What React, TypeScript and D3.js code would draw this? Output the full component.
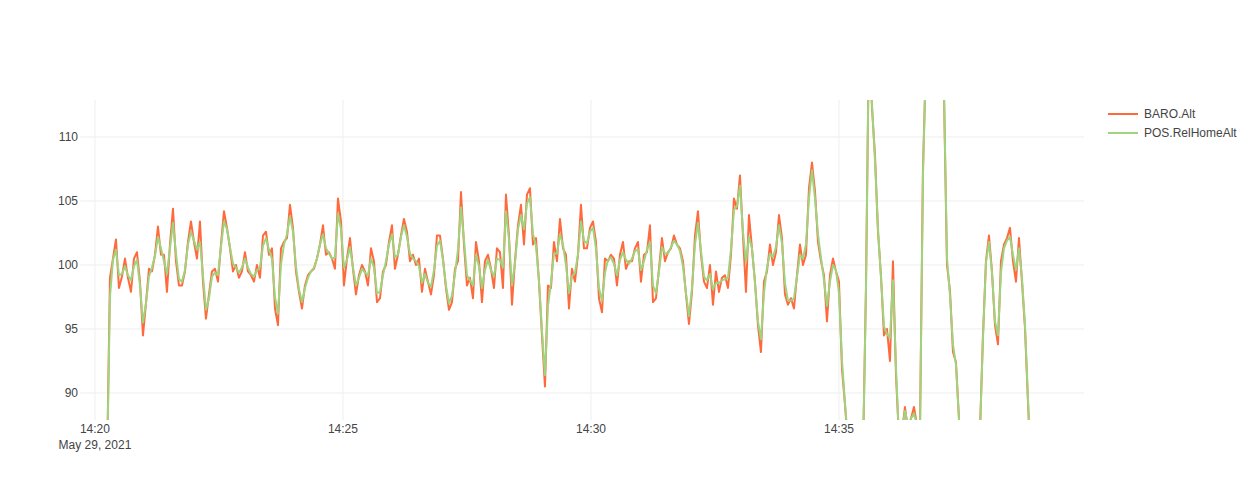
import React from "react";
import * as d3 from "d3";

// Flight log, sampled at a regular interval (seconds after 14:20:00, May 29 2021)
const SAMPLE_START_S = 14.52;
const SAMPLE_STEP_S = 3.629;

const baroAlt: number[] = [
  84, 99, 100.5, 102, 98.2, 99.1, 100.5, 99, 97.9, 100.5,
  101, 98.7, 94.5, 97, 99.7, 99.5, 100.8, 103, 100.8, 100.8,
  97.9, 101.6, 104.4, 100.3, 98.4, 98.4, 99.5, 101.8, 103.4, 101.8,
  100.5, 103.4, 98.7, 95.8, 97.7, 99.5, 99.7, 98.7, 101.6, 104.2,
  102.9, 101.3, 99.5, 100, 99, 99.5, 101, 99.5, 99.2, 98.7,
  100, 99, 102.3, 102.6, 100.8, 101.3, 96.6, 95.3, 101.3, 101.8,
  102.1, 104.7, 102.9, 99.5, 97.9, 96.6, 98.4, 99.2, 99.5, 99.7,
  100.5, 101.6, 103.1, 100.8, 101, 100.5, 99.7, 105.2, 103.4, 98.4,
  100.5, 102.1, 99.7, 97.7, 99.2, 100, 99.5, 98.4, 101.3, 100.3,
  97.1, 97.4, 99.5, 100, 101.8, 103.1, 99.7, 100.8, 102.3, 103.6,
  102.6, 100.3, 100.8, 100, 100.5, 97.9, 99.7, 98.7, 97.7, 99.2,
  102.3, 102.3, 100.5, 98.2, 96.5, 97.1, 99.7, 100.3, 105.7, 101.6,
  98.4, 99, 97.4, 101.8, 100.3, 97.1, 100.3, 100.8, 99.7, 98.2,
  101.3, 101, 98.2, 105.5, 102.3, 96.9, 100.3, 103.1, 104.7, 101.6,
  105.5, 106, 101.6, 102.1, 98.7, 94.5, 90.5, 98.4, 98.2, 101.8,
  100.3, 103.6, 101.3, 100.8, 96.6, 99.7, 98.7, 100.8, 104.7, 101.3,
  101.3, 102.9, 103.4, 101.8, 97.4, 96.3, 100.5, 100.3, 100.8, 100.5,
  98.4, 100.8, 101.8, 99.7, 100.3, 100.3, 101.3, 101.8, 98.7, 100.8,
  101, 103.1, 97.1, 97.4, 99.7, 102.1, 100.3, 101, 101.3, 102.3,
  101.6, 101.3, 100.3, 97.7, 95.4, 97.9, 102.3, 104.2, 100.8, 98.7,
  98.2, 100, 96.9, 99.5, 97.9, 99, 99.2, 98.2, 100.8, 105.2,
  104.4, 107, 102.3, 97.9, 103.9, 101.3, 98.7, 95.3, 93.2, 98.7,
  99.5, 101.6, 100, 101, 103.9, 102.1, 97.7, 96.9, 97.4, 96.6,
  99.2, 101.6, 100, 100.8, 106, 108, 105.8, 101.8, 100.3, 99.2,
  95.6, 99.2, 100.5, 99.5, 98.7, 91.9, 89.1, 86, 84, 83,
  83, 84, 85, 98.3, 118, 112.3, 108.6, 102.6, 99.2, 94.5,
  95, 92.5, 100.3, 91.4, 86.5, 87, 88.9, 87, 88, 88.9,
  87.5, 87, 107.6, 116, 121, 124, 125, 124, 120, 113.5,
  100, 98, 93.2, 92.4, 88, 85, 83, 82, 82, 83,
  85, 87, 94.5, 100.3, 102.3, 99.5, 95.3, 93.8, 100.3, 101.6,
  102.1, 102.9, 100.3, 98.7, 102.1, 98.7, 95.1, 89.3, 84,
];

const posRelHomeAlt: number[] = [
  84, 97.5, 100.4, 101.2, 99.2, 99.3, 99.9, 99.2, 98.8, 99.9,
  100.4, 98.4, 95.5, 97, 99.1, 99.8, 100.7, 102.2, 101.3, 100.3,
  99.3, 101.3, 103.3, 100.9, 98.9, 98.7, 99.6, 101.6, 102.6, 101.9,
  101.2, 101.8, 99.2, 96.5, 97.4, 99.1, 99.4, 99.2, 101.4, 103.4,
  102.8, 101.4, 100.1, 99.8, 99.4, 99.8, 100.5, 99.8, 99.3, 99.1,
  99.6, 99.8, 101.5, 102.1, 101.2, 100.5, 97.5, 96.2, 100, 101.6,
  102.4, 103.8, 102.6, 99.9, 98.1, 97.1, 98.2, 99, 99.5, 99.8,
  100.5, 101.6, 102.4, 101.3, 100.9, 100.5, 100.6, 104, 102.8, 99.8,
  100.4, 101.4, 99.8, 98.4, 99, 99.7, 99.4, 99.2, 100.5, 99.8,
  97.8, 97.9, 99.2, 100.3, 101.6, 102.4, 100.6, 100.8, 102.2, 103.1,
  102.2, 100.9, 100.5, 100.3, 99.9, 98.6, 99.3, 98.6, 98.3, 99.6,
  101.5, 101.9, 100.4, 98.4, 97, 97.6, 99.3, 101.2, 104.5, 102,
  99.2, 98.8, 98.4, 100.8, 99.9, 98.2, 99.6, 100.4, 99.6, 99.1,
  100.5, 100.4, 99.8, 104.2, 102, 98.4, 100.1, 102.8, 103.9, 102.8,
  104.8, 105.3, 102.4, 101.5, 98.8, 94.9, 91.4, 96.8, 98.6, 100.9,
  100.9, 102.4, 101.6, 100, 97.8, 99.1, 99.4, 100.8, 103.4, 101.9,
  101.7, 102.6, 102.9, 101.3, 98.2, 97.2, 99.4, 100.4, 100.6, 100.1,
  99.2, 100.4, 101, 100.4, 100.1, 100.5, 101.1, 101.2, 99.6, 100.3,
  101.2, 101.8, 98.4, 97.8, 99.5, 101.4, 100.9, 100.9, 101.4, 101.9,
  101.6, 101.1, 99.9, 97.8, 96, 98.2, 101.6, 103.3, 101.1, 99.1,
  98.8, 99.3, 98.1, 98.6, 98.6, 98.8, 98.9, 99, 101.2, 104.3,
  104.6, 106.2, 102.6, 100.2, 102.2, 101.3, 98.6, 95.6, 94.2, 97.8,
  99.8, 100.9, 100.6, 101.4, 103.1, 101.7, 98.6, 97.2, 97.2, 97.4,
  99.1, 100.8, 100.5, 101.6, 105.2, 107.4, 105.2, 102.4, 100.6, 98.8,
  96.8, 98.7, 100, 99.6, 97.8, 92.6, 89.2, 86.2, 84, 83,
  83, 84, 85, 98, 118, 112.6, 108.2, 102.9, 99, 95.2,
  94.6, 94.3, 98.8, 92, 86.5, 87, 88.6, 87.5, 88, 88.4,
  87.5, 87, 107, 116, 121, 124, 125, 124, 120, 113.6,
  100.6, 97.6, 93.8, 92.2, 88, 85, 83, 82, 82, 83,
  85, 87, 94.3, 100.2, 101.8, 99.4, 95.6, 94.5, 99.4, 101.3,
  101.9, 102.2, 100.8, 99.6, 101.3, 99, 95.3, 89.6, 84,
];

const seriesNames = ["BARO.Alt", "POS.RelHomeAlt"];
const seriesColors = ["#ff6a3d", "#9fd47e"];
const yTicks = [90, 95, 100, 105, 110];
const yDomain: [number, number] = [87.89, 112.89];
const xDomainSeconds: [number, number] = [-18.1, 1196.4];
const dateLabel = "May 29, 2021";

const W = 1254;
const H = 500;
const M = { left: 80, right: 170, top: 100, bottom: 80 };
const FONT = '"Liberation Sans", Arial, sans-serif';

const base = new Date(2021, 4, 29, 14, 20, 0);
const toDate = (s: number) => new Date(base.getTime() + s * 1000);

export default function App() {
  const x0 = M.left;
  const x1 = W - M.right;
  const y0 = M.top;
  const y1 = H - M.bottom;

  const x = d3.scaleTime().domain(xDomainSeconds.map(toDate) as [Date, Date]).range([x0, x1]);
  const y = d3.scaleLinear().domain(yDomain).range([y1, y0]);

  const xTicks = x.ticks(d3.timeMinute.every(5)!);
  const fmt = d3.timeFormat("%H:%M");

  const series = [baroAlt, posRelHomeAlt].map((vals) =>
    vals.map((v, i) => ({ t: toDate(SAMPLE_START_S + i * SAMPLE_STEP_S), v }))
  );
  const line = d3
    .line<{ t: Date; v: number }>()
    .x((d) => x(d.t))
    .y((d) => y(d.v));

  return (
    <svg
      width={W}
      height={H}
      style={{ position: "absolute", left: 0, top: 0, background: "#fff" }}
      fontFamily={FONT}
    >
      <defs>
        <clipPath id="plot">
          <rect x={x0} y={y0} width={x1 - x0} height={y1 - y0} />
        </clipPath>
      </defs>
      {/* grid */}
      {yTicks.map((t) => (
        <line key={"gy" + t} x1={x0} x2={x1} y1={y(t)} y2={y(t)} stroke="#eeeeee" strokeWidth={1} />
      ))}
      {xTicks.map((t, i) => (
        <line key={"gx" + i} x1={x(t)} x2={x(t)} y1={y0} y2={y1} stroke="#eeeeee" strokeWidth={1} />
      ))}
      {/* series */}
      <g clipPath="url(#plot)">
        {series.map((s, i) => (
          <path
            key={seriesNames[i]}
            d={line(s) || ""}
            fill="none"
            stroke={seriesColors[i]}
            strokeWidth={2}
            strokeLinejoin="round"
          />
        ))}
      </g>
      {/* y labels */}
      {yTicks.map((t) => (
        <text key={"ty" + t} x={x0 - 2} y={y(t)} dy="0.35em" textAnchor="end" fontSize={12} fill="#444">
          {t}
        </text>
      ))}
      {/* x labels */}
      {xTicks.map((t, i) => (
        <text key={"tx" + i} x={x(t)} y={y1 + 13} textAnchor="middle" fontSize={12} fill="#444">
          {fmt(t)}
        </text>
      ))}
      {xTicks.length > 0 && (
        <text x={x(xTicks[0])} y={y1 + 29} textAnchor="middle" fontSize={12} fill="#444">
          {dateLabel}
        </text>
      )}
      {/* legend */}
      {seriesNames.map((n, i) => (
        <g key={"lg" + n} transform={`translate(1108, ${114 + i * 19})`}>
          <line x1={0} x2={30} y1={0} y2={0} stroke={seriesColors[i]} strokeWidth={2} />
          <text x={36} y={0} dy="0.35em" fontSize={12} fill="#444">
            {n}
          </text>
        </g>
      ))}
    </svg>
  );
}
